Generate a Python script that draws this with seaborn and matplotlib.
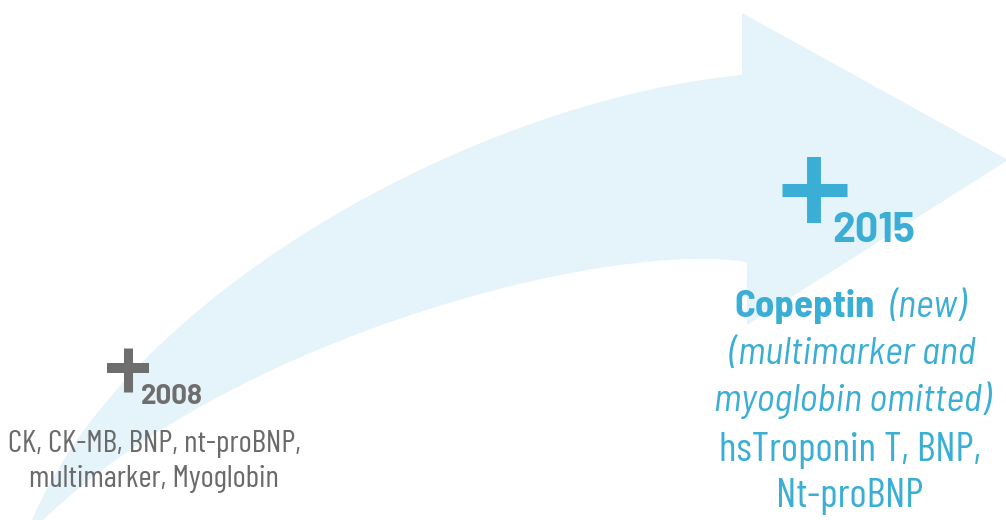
import matplotlib
matplotlib.use('Agg')
import matplotlib.pyplot as plt
import seaborn as sns
from matplotlib.path import Path
from matplotlib.patches import PathPatch
from matplotlib import font_manager

#Values
years = ['2008', '2015']
markers_2008 = ['CK, CK-MB, BNP, nt-proBNP,', 'multimarker, Myoglobin']
new_2015 = 'Copeptin'
new_note = '(new)'
omitted_2015 = ['(multimarker and', 'myoglobin omitted)']
markers_2015 = ['hsTroponin T, BNP,', 'Nt-proBNP']

#Arrow outline (pixel space, y grows downward)
arrow_verts = [(32, 520), (130, 290), (480, 100), (742, 75),
               (742, 13), (1008, 160), (747, 325), (747, 262),
               (600, 240), (230, 340), (43, 520), (32, 520)]
arrow_codes = [Path.MOVETO, Path.CURVE4, Path.CURVE4, Path.CURVE4,
               Path.LINETO, Path.LINETO, Path.LINETO, Path.LINETO,
               Path.CURVE4, Path.CURVE4, Path.CURVE4, Path.CLOSEPOLY]

arrow_color = '#E5F3FA'
blue = '#3AAED4'
gray = '#6E6E6E'
gray_text = '#6A6A6A'

#Pick a condensed family if one is installed
def pick(options, default='Liberation Sans'):
    names = {f.name for f in font_manager.fontManager.ttflist}
    for name in options:
        if name in names:
            return [name, 'DejaVu Sans']
    return [default, 'DejaVu Sans']

sns.set_theme(style='white')
narrow_font = pick(['Barlow Condensed', 'Barlow Semi Condensed', 'Asap Condensed'])
semi_font = pick(['Barlow Semi Condensed', 'Barlow Condensed', 'Asap Condensed'])
year_font = pick(['Barlow', 'Barlow Semi Condensed', 'Barlow Condensed'])
plt.rcParams['font.family'] = narrow_font

fig = plt.figure(figsize=(10.06, 5.2), dpi=100)
ax = fig.add_axes([0, 0, 1, 1])
ax.set_xlim(0, 1006)
ax.set_ylim(520, 0)
ax.axis('off')

#Curved arrow
ax.add_patch(PathPatch(Path(arrow_verts, arrow_codes), facecolor=arrow_color, edgecolor='none'))

#Plus signs
ax.vlines(128.5, 348, 392, color=gray, linewidth=6.5)
ax.hlines(368, 107, 149, color=gray, linewidth=7.2)
ax.vlines(814, 157, 223, color=blue, linewidth=10)
ax.hlines(189.5, 782, 847, color=blue, linewidth=9.4)

#Years
ax.text(141, 404, years[0], color=gray, fontsize=20, fontweight='bold', family=year_font,
        ha='left', va='baseline')
ax.text(832, 242, years[1], color=blue, fontsize=29.5, fontweight='bold', family=year_font,
        ha='left', va='baseline')

#2008 markers
for i, line in enumerate(markers_2008):
    ax.text(154, 452 + i * 35, line, color=gray_text, fontsize=22.7, ha='center', va='baseline')

#2015 markers
ax.text(875, 317, new_2015, color=blue, fontsize=28, fontweight='bold', family=semi_font,
        ha='right', va='baseline')
ax.text(890, 317, new_note, color=blue, fontsize=27.5, style='italic', family=semi_font,
        ha='left', va='baseline')
for i, line in enumerate(omitted_2015):
    ax.text(852, 364 + i * 47, line, color=blue, fontsize=27.5, style='italic', family=semi_font,
            ha='center', va='baseline')
for i, line in enumerate(markers_2015):
    ax.text(850, 461 + i * 46, line, color=blue, fontsize=29.5, ha='center', va='baseline')

fig.savefig('out.png', dpi=100, facecolor='white')
